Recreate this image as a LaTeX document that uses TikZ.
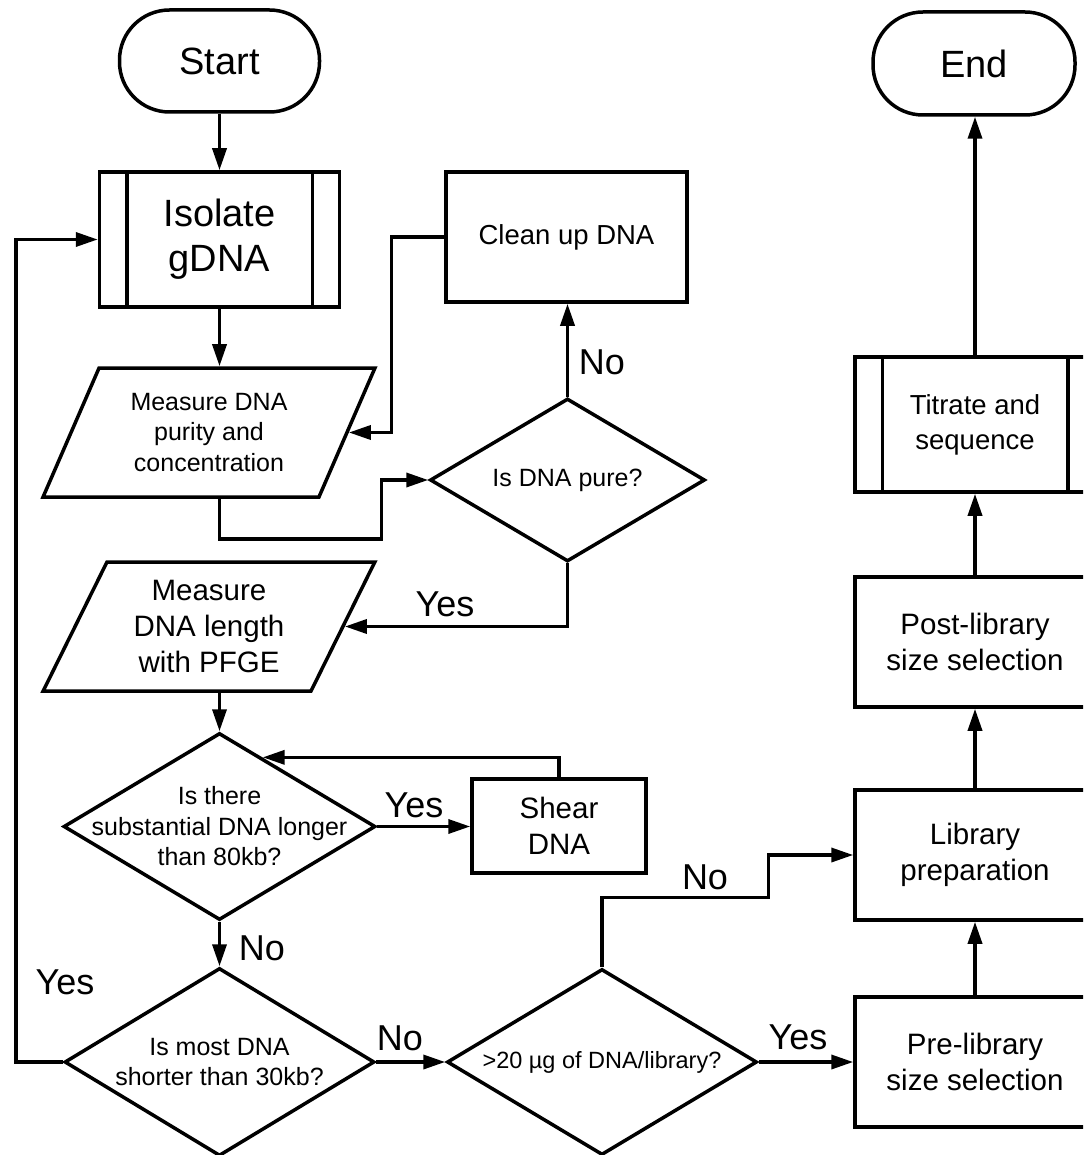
\documentclass[tikz,border=0pt]{standalone}
\usepackage{fontspec}
\setmainfont{Liberation Sans}
\usetikzlibrary{arrows.meta,shapes.geometric,calc}
\newcommand\ftBig{\fontsize{19}{22.5}\selectfont}
\newcommand\ftLab{\fontsize{18}{21}\selectfont}
\newcommand\ftMid{\fontsize{14.75}{18}\selectfont}
\newcommand\ftCl{\fontsize{13.75}{17.5}\selectfont}
\newcommand\ftSm{\fontsize{12.5}{15.25}\selectfont}
\newcommand\ftXs{\fontsize{11.75}{14}\selectfont}
\begin{document}
\begin{tikzpicture}[x=0.5pt,y=-0.5pt, line width=1.75pt,
  box/.style={draw, rectangle, inner sep=0pt, align=center},
  term/.style={draw, rectangle, rounded corners=25pt, inner sep=0pt, font=\ftBig},
  para/.style={draw, trapezium, trapezium left angle=63, trapezium right angle=117,
     trapezium stretches=true, inner sep=0pt, align=center,
     minimum height=64.5pt, minimum width=166pt},
  dec/.style={draw, diamond, inner sep=0pt},
  arr/.style={-{Triangle[length=11pt,width=7pt]}},
  lab/.style={font=\ftLab, inner sep=0pt}]
\useasboundingbox (0,0) rectangle (1083,1155);
\fill[white] (0,0) rectangle (1083,1155);
\begin{scope}
\clip (0,0) rectangle (1083,1155);
% nodes
\node[term, minimum width=100pt, minimum height=51pt] (start) at (219.5,61) {Start};
\node[box, font=\ftBig, minimum width=120pt, minimum height=67.5pt] (iso) at (219.5,239.5) {Isolate\\gDNA};
\draw ([xshift=14.5pt]iso.north west) -- ([xshift=14.5pt]iso.south west);
\draw ([xshift=-14.5pt]iso.north east) -- ([xshift=-14.5pt]iso.south east);
\node[box, font=\ftCl, minimum width=120.5pt, minimum height=65pt] (clean) at (566.5,237) {Clean up DNA};
\node[para, font=\ftSm] (p1) at (209,432.5) {Measure DNA\\purity and\\concentration};
\node[dec, minimum width=137.5pt, minimum height=81.5pt,
  label={[font=\ftSm]center:Is DNA pure?}] (pure) at (567.5,480) {};
\node[para, font=\ftMid] (p2) at (209,626.5) {Measure\\DNA length\\with PFGE};
\node[dec, minimum width=156pt, minimum height=93.5pt,
  label={[font=\ftSm,align=center]center:Is there\\substantial DNA longer\\than 80kb?}] (d1) at (219.5,826.5) {};
\node[box, font=\ftMid, minimum width=87pt, minimum height=47pt] (shear) at (559,826) {Shear\\DNA};
\node[dec, minimum width=155pt, minimum height=94pt,
  label={[font=\ftSm,align=center]center:Is most DNA\\shorter than 30kb?}] (d2) at (219.5,1062) {};
\node[dec, minimum width=155pt, minimum height=93pt,
  label={[font=\ftXs]center:>20 µg of DNA/library?}] (d3) at (602,1062) {};
\node[box, font=\ftMid, minimum width=120pt, minimum height=65pt] (pre) at (975,1062) {Pre-library\\size selection};
\node[box, font=\ftMid, minimum width=120pt, minimum height=65pt] (lib) at (975,855) {Library\\preparation};
\node[box, font=\ftMid, minimum width=120pt, minimum height=65pt] (post) at (975,642) {Post-library\\size selection};
\node[box, font=\ftCl, minimum width=120pt, minimum height=67.5pt] (tit) at (975,424.5) {Titrate and\\sequence};
\draw ([xshift=14.5pt]tit.north west) -- ([xshift=14.5pt]tit.south west);
\draw ([xshift=-14.5pt]tit.north east) -- ([xshift=-14.5pt]tit.south east);
\node[term, minimum width=101pt, minimum height=51.5pt] (end) at (974,63.5) {End};
% labels
\node[lab] (l1) at (602,362) {No};
\node[lab] (l2) at (445,604) {Yes};
\node[lab] (l3) at (414,805) {Yes};
\node[lab] (l4) at (262,948) {No};
\node[lab] (l5) at (65,982) {Yes};
\node[lab] (l6) at (400,1038) {No};
\node[lab] (l7) at (705,877) {No};
\node[lab] (l8) at (798,1037) {Yes};
% connectors
\draw[arr] (start.south) -- (iso.north);
\draw[arr] (iso.south) -- (iso.south |- p1.north);
\draw[arr] (clean.west) -- ++(-53,0) |- (p1.east);
\draw[arr] (iso.south |- p1.south) -- ++(0,40) -| ($(pure.west)+(-47,0)$) -- (pure.west);
\draw[arr] (pure.north) -- (pure.north |- clean.south);
\draw[arr] (pure.south) |- (p2.east);
\draw[arr] (iso.south |- p2.south) -- (d1.north);
\draw[arr] (d1.east) -- (d1.east -| shear.west);
\draw[arr] (shear.north) |- (d1.58.7);
\draw[arr] (d1.south) -- (d2.north);
\draw[arr] (d2.west) -- ++(-47,0) |- (iso.west);
\draw[arr] (d2.east) -- (d3.west);
\draw[arr] (d3.north) -- ++(0,-70) -| ($(lib.west)+(-85,0)$) -- (lib.west);
\draw[arr] (d3.east) -- (pre.west);
\draw[arr] (pre.north) -- (lib.south);
\draw[arr] (lib.north) -- (post.south);
\draw[arr] (post.north) -- (tit.south);
\draw[arr] (tit.north) -- (tit.north |- end.south);
\end{scope}
\end{tikzpicture}
\end{document}
